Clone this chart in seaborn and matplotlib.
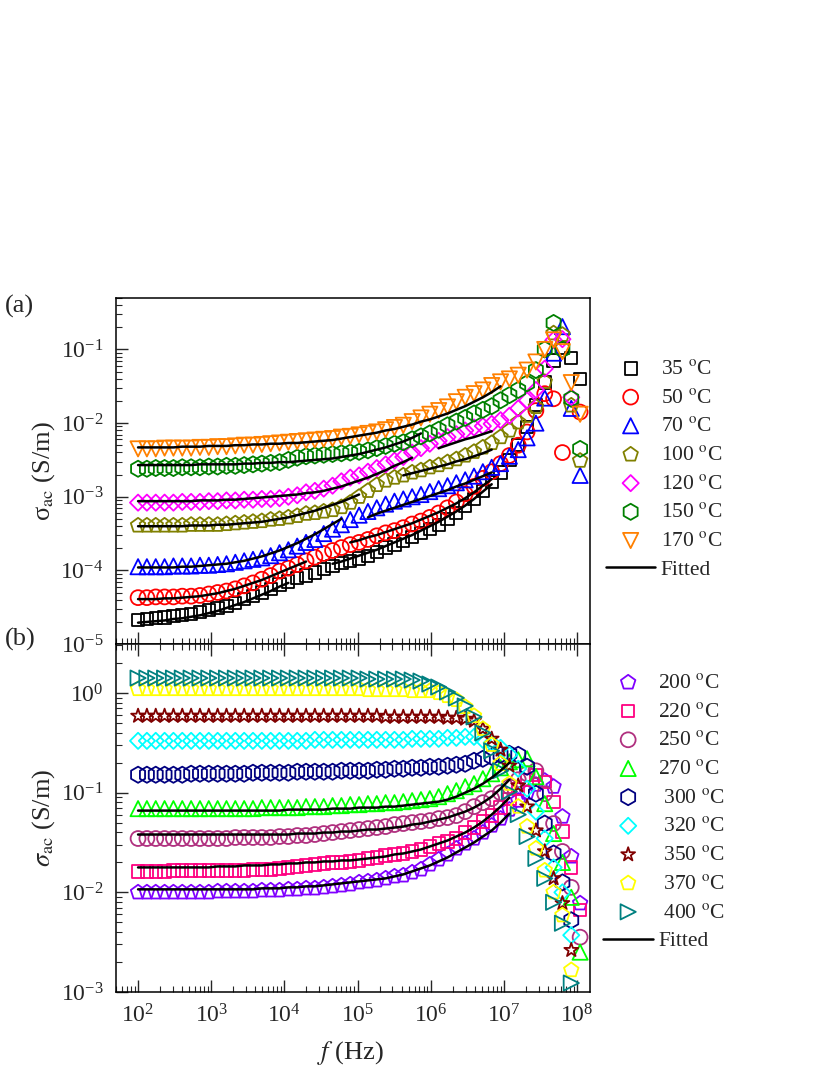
import numpy as np
import pandas as pd
import matplotlib
matplotlib.use('Agg')
import matplotlib.pyplot as plt
import seaborn as sns
from matplotlib.ticker import LogLocator, NullFormatter

sns.set_theme(style='ticks')
plt.rcParams['font.family'] = ['Liberation Serif', 'DejaVu Serif']
plt.rcParams['mathtext.fontset'] = 'stix'

nan = np.nan
# measurement frequencies: 100 Hz .. 110 MHz, 51 points
freq = np.logspace(2, np.log10(1.1e8), 51)

# ---- panel (a): log10(sigma_ac) ----
temps_a = ['35', '50', '70', '100', '120', '150', '170']
s35 = [-4.67, -4.66, -4.65, -4.64, -4.62, -4.61, -4.59, -4.57, -4.54, -4.51,
       -4.48, -4.44, -4.39, -4.35, -4.30, -4.25, -4.19, -4.15, -4.10, -4.07,
       -4.03, -3.98, -3.94, -3.90, -3.87, -3.84, -3.80, -3.75, -3.69, -3.65,
       -3.60, -3.55, -3.49, -3.44, -3.38, -3.30, -3.22, -3.13, -3.03, -2.92,
       -2.80, -2.67, -2.50, -2.30, -2.05, -1.75, -1.45, -1.15, -0.98, -1.12,
       -1.40]
s50 = [-4.37, -4.37, -4.36, -4.36, -4.36, -4.35, -4.35, -4.34, -4.32, -4.30,
       -4.28, -4.25, -4.21, -4.17, -4.12, -4.07, -4.01, -3.97, -3.92, -3.87,
       -3.82, -3.77, -3.73, -3.69, -3.65, -3.62, -3.58, -3.53, -3.49, -3.46,
       -3.42, -3.37, -3.33, -3.28, -3.22, -3.15, -3.07, -2.96, -2.86, -2.75,
       -2.66, -2.55, -2.44, -2.30, -2.12, -1.83, -1.60, -1.67, -2.40, nan,
       -1.85]
s70 = [-3.95, -3.95, -3.95, -3.95, -3.94, -3.94, -3.94, -3.93, -3.93, -3.92,
       -3.91, -3.89, -3.87, -3.85, -3.83, -3.80, -3.76, -3.72, -3.67, -3.62,
       -3.58, -3.50, -3.44, -3.38, -3.31, -3.25, -3.20, -3.15, -3.10, -3.06,
       -3.03, -3.00, -2.97, -2.93, -2.89, -2.85, -2.81, -2.77, -2.72, -2.66,
       -2.60, -2.55, -2.45, -2.36, -2.20, -2.00, -1.66, -1.05, -0.69, -1.80,
       -2.71]
s100 = [-3.39, -3.39, -3.39, -3.39, -3.39, -3.39, -3.38, -3.38, -3.38, -3.38,
        -3.37, -3.36, -3.35, -3.34, -3.33, -3.31, -3.30, -3.28, -3.26, -3.23,
        -3.22, -3.20, -3.18, -3.14, -3.08, -3.00, -2.92, -2.84, -2.78, -2.74,
        -2.71, -2.67, -2.64, -2.60, -2.57, -2.53, -2.49, -2.44, -2.39, -2.33,
        -2.27, -2.19, -2.10, -1.99, -1.90, -1.78, -1.44, -0.78, -0.80, -1.76,
        -2.51]
s120 = [-3.08, -3.08, -3.08, -3.08, -3.08, -3.07, -3.07, -3.07, -3.06, -3.06,
        -3.05, -3.05, -3.04, -3.04, -3.03, -3.03, -3.02, -3.00, -2.98, -2.94,
        -2.92, -2.89, -2.85, -2.79, -2.74, -2.71, -2.66, -2.61, -2.56, -2.51,
        -2.46, -2.40, -2.34, -2.28, -2.24, -2.19, -2.15, -2.10, -2.06, -2.04,
        -2.01, -1.96, -1.90, -1.80, -1.69, -1.55, -1.26, -0.87, -0.86, -1.65,
        nan]
s150 = [-2.62, -2.62, -2.61, -2.61, -2.61, -2.60, -2.60, -2.60, -2.59, -2.59,
        -2.58, -2.58, -2.57, -2.56, -2.55, -2.54, -2.53, -2.50, -2.47, -2.45,
        -2.44, -2.43, -2.42, -2.41, -2.40, -2.39, -2.37, -2.34, -2.31, -2.28,
        -2.26, -2.22, -2.18, -2.14, -2.09, -2.03, -1.98, -1.93, -1.87, -1.82,
        -1.77, -1.69, -1.62, -1.55, -1.46, -1.28, -1.00, -0.64, -1.00, -1.67,
        -2.35]
s170 = [-2.35, -2.35, -2.35, -2.34, -2.34, -2.34, -2.34, -2.33, -2.33, -2.32,
        -2.32, -2.31, -2.30, -2.30, -2.29, -2.28, -2.27, -2.26, -2.25, -2.24,
        -2.23, -2.22, -2.21, -2.19, -2.18, -2.16, -2.14, -2.12, -2.09, -2.06,
        -2.03, -1.98, -1.93, -1.88, -1.83, -1.78, -1.71, -1.65, -1.60, -1.55,
        -1.49, -1.44, -1.40, -1.35, -1.28, -1.17, -1.00, -0.87, -1.03, -1.45,
        -1.88]
series_a = [s35, s50, s70, s100, s120, s150, s170]
colors_a = ['black', '#ff0000', '#0000ff', '#808000', '#ff00ff', '#008000', '#ff8000']
markers_a = ['s', 'o', '^', 'p', 'D', 'h', 'v']
sizes_a = [78, 115, 120, 120, 68, 135, 120]

# fitted segments for panel (a): (first frequency index, log10 values)
fits_a = [
    (0, [-4.71, -4.70, -4.69, -4.68, -4.66, -4.65, -4.63, -4.61, -4.58, -4.55,
         -4.51, -4.47, -4.43, -4.38, -4.33, -4.28, -4.22, -4.17]),
    (22, [-3.91, -3.88, -3.84, -3.80, -3.76, -3.72, -3.67, -3.62, -3.57, -3.52,
          -3.46, -3.40, -3.34, -3.27, -3.20, -3.12, -3.03, -2.93, -2.83]),
    (0, [-4.39, -4.39, -4.39, -4.38, -4.38, -4.37, -4.36, -4.35, -4.33, -4.31,
         -4.28, -4.25, -4.21, -4.17, -4.13, -4.08, -4.03, -3.98, -3.93, -3.88]),
    (24, [-3.62, -3.59, -3.55, -3.52, -3.48, -3.44, -3.40, -3.36, -3.31, -3.26,
          -3.21, -3.15, -3.09, -3.02, -2.94, -2.85, -2.76]),
    (0, [-3.96, -3.96, -3.96, -3.96, -3.96, -3.95, -3.95, -3.94, -3.93, -3.92,
         -3.91, -3.89, -3.87, -3.84, -3.81, -3.77, -3.73, -3.68, -3.63, -3.57,
         -3.51, -3.44, -3.37, -3.30]),
    (26, [-3.28, -3.23, -3.19, -3.15, -3.11, -3.07, -3.03, -2.99, -2.95, -2.91,
          -2.86, -2.82, -2.77, -2.72, -2.67]),
    (0, [-3.40, -3.40, -3.40, -3.40, -3.40, -3.40, -3.39, -3.39, -3.39, -3.38,
         -3.38, -3.37, -3.36, -3.35, -3.34, -3.32, -3.30, -3.28, -3.25, -3.22,
         -3.19, -3.15, -3.11, -3.07, -3.02, -2.97]),
    (30, [-2.71, -2.68, -2.65, -2.62, -2.59, -2.56, -2.52, -2.49, -2.45, -2.41,
          -2.36]),
    (0, [-3.06, -3.06, -3.06, -3.06, -3.06, -3.06, -3.06, -3.05, -3.05, -3.05,
         -3.04, -3.04, -3.03, -3.02, -3.01, -3.00, -2.99, -2.98, -2.97, -2.95,
         -2.94, -2.92, -2.89, -2.86, -2.82, -2.78, -2.74, -2.69, -2.64, -2.58,
         -2.53, -2.47]),
    (34, [-2.34, -2.30, -2.26, -2.22, -2.19, -2.15, -2.11]),
    (0, [-2.57, -2.57, -2.57, -2.57, -2.57, -2.57, -2.57, -2.56, -2.56, -2.56,
         -2.56, -2.56, -2.55, -2.55, -2.54, -2.54, -2.53, -2.53, -2.52, -2.51,
         -2.50, -2.49, -2.48, -2.46, -2.44, -2.42, -2.39, -2.36, -2.33, -2.29,
         -2.25, -2.20, -2.14]),
    (0, [-2.33, -2.33, -2.33, -2.33, -2.33, -2.32, -2.32, -2.32, -2.31, -2.31,
         -2.31, -2.30, -2.30, -2.29, -2.29, -2.28, -2.28, -2.27, -2.27, -2.26,
         -2.25, -2.24, -2.23, -2.21, -2.19, -2.17, -2.15, -2.13, -2.10, -2.08,
         -2.05, -2.02, -1.98, -1.95, -1.91, -1.87, -1.82, -1.77, -1.71, -1.65,
         -1.58, -1.50]),
]

# ---- panel (b) ----
temps_b = ['200', '220', '250', '270', ' 300', ' 320', ' 350', ' 370', ' 400']
s200 = [-2.00, -2.00, -2.00, -2.00, -2.00, -2.00, -2.00, -2.00, -2.00, -1.99,
        -1.99, -1.99, -1.99, -1.99, -1.98, -1.98, -1.98, -1.97, -1.97, -1.96,
        -1.96, -1.95, -1.94, -1.93, -1.92, -1.90, -1.89, -1.88, -1.86, -1.84,
        -1.83, -1.80, -1.77, -1.72, -1.67, -1.62, -1.56, -1.51, -1.46, -1.40,
        -1.33, -1.26, -1.17, -1.08, -1.00, -0.92, -0.88, -0.94, -1.24, -1.64,
        -2.11]
s220 = [-1.79, -1.79, -1.79, -1.79, -1.78, -1.78, -1.78, -1.78, -1.78, -1.78,
        -1.78, -1.78, -1.78, -1.77, -1.77, -1.77, -1.76, -1.75, -1.74, -1.73,
        -1.72, -1.71, -1.70, -1.70, -1.69, -1.68, -1.66, -1.65, -1.63, -1.62,
        -1.61, -1.59, -1.57, -1.54, -1.51, -1.49, -1.46, -1.40, -1.35, -1.29,
        -1.23, -1.15, -1.06, -0.96, -0.87, -0.82, -0.89, -1.09, -1.39, -1.75,
        -2.18]
s250 = [-1.46, -1.46, -1.46, -1.46, -1.46, -1.46, -1.46, -1.46, -1.46, -1.46,
        -1.46, -1.45, -1.45, -1.45, -1.45, -1.45, -1.44, -1.44, -1.43, -1.43,
        -1.42, -1.41, -1.40, -1.39, -1.38, -1.37, -1.36, -1.35, -1.34, -1.32,
        -1.31, -1.30, -1.29, -1.28, -1.26, -1.25, -1.23, -1.19, -1.14, -1.10,
        -1.06, -1.00, -0.94, -0.87, -0.81, -0.78, -1.01, -1.31, -1.59, -1.95,
        -2.45]
s270 = [-1.16, -1.16, -1.16, -1.16, -1.16, -1.16, -1.16, -1.16, -1.16, -1.16,
        -1.16, -1.16, -1.16, -1.16, -1.15, -1.15, -1.15, -1.15, -1.15, -1.14,
        -1.14, -1.14, -1.13, -1.13, -1.12, -1.12, -1.11, -1.11, -1.10, -1.10,
        -1.09, -1.08, -1.07, -1.06, -1.04, -1.01, -0.98, -0.94, -0.91, -0.86,
        -0.81, -0.75, -0.69, -0.67, -0.66, -0.84, -1.11, -1.41, -1.70, -2.05,
        -2.60]
s300 = [-0.82, -0.82, -0.82, -0.82, -0.82, -0.82, -0.81, -0.81, -0.81, -0.81,
        -0.81, -0.81, -0.81, -0.80, -0.80, -0.80, -0.80, -0.80, -0.79, -0.79,
        -0.79, -0.79, -0.79, -0.78, -0.78, -0.78, -0.78, -0.77, -0.77, -0.76,
        -0.76, -0.75, -0.75, -0.74, -0.74, -0.73, -0.72, -0.71, -0.68, -0.66,
        -0.64, -0.62, -0.61, -0.62, -0.74, -1.01, -1.31, -1.61, -1.90, -2.28,
        nan]
s320 = [-0.48, -0.48, -0.48, -0.48, -0.48, -0.48, -0.48, -0.48, -0.48, -0.48,
        -0.48, -0.48, -0.48, -0.48, -0.48, -0.48, -0.48, -0.48, -0.48, -0.48,
        -0.47, -0.47, -0.47, -0.47, -0.47, -0.47, -0.47, -0.47, -0.47, -0.47,
        -0.47, -0.46, -0.46, -0.46, -0.46, -0.45, -0.45, -0.44, -0.44, -0.47,
        -0.50, -0.55, -0.62, -0.76, -0.96, -1.19, -1.46, -1.75, -2.00, -2.43,
        nan]
s350 = [-0.23, -0.23, -0.23, -0.23, -0.23, -0.23, -0.23, -0.23, -0.23, -0.23,
        -0.23, -0.23, -0.23, -0.23, -0.23, -0.23, -0.23, -0.23, -0.23, -0.23,
        -0.23, -0.23, -0.23, -0.23, -0.23, -0.23, -0.23, -0.23, -0.24, -0.24,
        -0.24, -0.24, -0.24, -0.24, -0.24, -0.25, -0.25, -0.26, -0.28, -0.36,
        -0.46, -0.57, -0.73, -0.93, -1.14, -1.38, -1.59, -1.86, -2.11, -2.58,
        nan]
s370 = [0.04, 0.04, 0.04, 0.04, 0.04, 0.04, 0.04, 0.04, 0.04, 0.04,
        0.04, 0.04, 0.04, 0.04, 0.04, 0.04, 0.04, 0.04, 0.04, 0.04,
        0.04, 0.04, 0.04, 0.04, 0.04, 0.04, 0.03, 0.03, 0.03, 0.03,
        0.03, 0.02, 0.02, 0.02, 0.00, -0.03, -0.07, -0.14, -0.23, -0.36,
        -0.52, -0.71, -0.91, -1.14, -1.34, -1.56, -1.78, -2.00, -2.23, -2.78,
        nan]
s400 = [0.15, 0.15, 0.15, 0.15, 0.15, 0.15, 0.15, 0.15, 0.15, 0.15,
        0.15, 0.15, 0.15, 0.15, 0.15, 0.15, 0.15, 0.15, 0.15, 0.15,
        0.15, 0.15, 0.15, 0.15, 0.15, 0.15, 0.14, 0.14, 0.14, 0.14,
        0.14, 0.13, 0.12, 0.09, 0.06, 0.01, -0.05, -0.13, -0.24, -0.40,
        -0.58, -0.78, -0.99, -1.22, -1.44, -1.66, -1.86, -2.10, -2.31, -2.91,
        nan]
series_b = [s200, s220, s250, s270, s300, s320, s350, s370, s400]
colors_b = ['#8000ff', '#ff0080', '#b0307f', '#00ff00', '#000080', '#00ffff',
            '#800000', '#ffff00', '#008080']
markers_b = ['p', 's', 'o', '^', 'h', 'D', '*', 'p', '>']
sizes_b = [120, 78, 115, 120, 135, 68, 110, 120, 120]

fits_b = [
    (0, [-1.97, -1.97, -1.97, -1.97, -1.97, -1.97, -1.97, -1.97, -1.97, -1.97,
         -1.97, -1.97, -1.97, -1.97, -1.96, -1.96, -1.96, -1.95, -1.95, -1.94,
         -1.94, -1.93, -1.92, -1.91, -1.90, -1.89, -1.88, -1.87, -1.86, -1.84,
         -1.82, -1.79, -1.76, -1.73, -1.69, -1.65, -1.60, -1.55, -1.50, -1.44,
         -1.38, -1.30, -1.21]),
    (0, [-1.75, -1.75, -1.75, -1.75, -1.75, -1.75, -1.75, -1.75, -1.75, -1.74,
         -1.74, -1.74, -1.73, -1.73, -1.73, -1.72, -1.72, -1.71, -1.71, -1.70,
         -1.70, -1.69, -1.69, -1.68, -1.68, -1.67, -1.66, -1.65, -1.64, -1.62,
         -1.61, -1.59, -1.57, -1.54, -1.51, -1.48, -1.44, -1.40, -1.35, -1.29,
         -1.22, -1.14, -1.05]),
    (0, [-1.42, -1.42, -1.42, -1.42, -1.42, -1.42, -1.42, -1.42, -1.42, -1.42,
         -1.42, -1.42, -1.42, -1.42, -1.42, -1.42, -1.42, -1.42, -1.41, -1.41,
         -1.41, -1.40, -1.40, -1.39, -1.39, -1.38, -1.37, -1.37, -1.36, -1.35,
         -1.34, -1.32, -1.31, -1.29, -1.27, -1.25, -1.22, -1.19, -1.15, -1.10,
         -1.04, -0.96, -0.87]),
    (0, [-1.18, -1.18, -1.18, -1.18, -1.18, -1.18, -1.18, -1.18, -1.18, -1.18,
         -1.18, -1.18, -1.18, -1.18, -1.18, -1.18, -1.18, -1.17, -1.17, -1.17,
         -1.17, -1.17, -1.16, -1.16, -1.16, -1.15, -1.15, -1.15, -1.14, -1.14,
         -1.13, -1.12, -1.11, -1.10, -1.09, -1.07, -1.04, -1.00, -0.96, -0.91,
         -0.85, -0.78, -0.70]),
]


def draw_panel(ax, temps, series, colors, markers, sizes, fits):
    for t, vals, c, m, s in zip(temps, series, colors, markers, sizes):
        df = pd.DataFrame({'f': freq, 'sigma': 10 ** np.array(vals, dtype=float)}).dropna()
        sns.scatterplot(data=df, x='f', y='sigma', marker=m, s=s, facecolor='none',
                        edgecolor=c, linewidth=1.3, ax=ax, label=t + r' $^{\rm o}$C',
                        zorder=2)
    for k, (i0, vals) in enumerate(fits):
        fd = pd.DataFrame({'f': freq[i0:i0 + len(vals)], 'sigma': 10 ** np.array(vals)})
        sns.lineplot(data=fd, x='f', y='sigma', color='black', lw=1.8, ax=ax,
                     label='Fitted' if k == 0 else '_nolegend_', zorder=3)
    ax.set_xscale('log')
    ax.set_yscale('log')
    ax.set_xlim(50, 1.5e8)
    for axis in (ax.xaxis, ax.yaxis):
        axis.set_major_locator(LogLocator(base=10, numticks=20))
        axis.set_minor_locator(LogLocator(base=10, subs=np.arange(2, 10) * 1.0, numticks=20))
        axis.set_minor_formatter(NullFormatter())
    for sp in ax.spines.values():
        sp.set_linewidth(1.1)
        sp.set_color('black')
    h, l = ax.get_legend_handles_labels()
    order = [i for i, lab in enumerate(l) if lab != 'Fitted'] + [l.index('Fitted')]
    return [h[i] for i in order], [l[i] for i in order]


fig = plt.figure(figsize=(8.3, 10.75), dpi=100)
ax_a = fig.add_axes([0.1398, 0.4009, 0.5710, 0.3219])
ax_b = fig.add_axes([0.1398, 0.0772, 0.5710, 0.3237])

ha, la = draw_panel(ax_a, temps_a, series_a, colors_a, markers_a, sizes_a, fits_a)
hb, lb = draw_panel(ax_b, temps_b, series_b, colors_b, markers_b, sizes_b, fits_b)

ax_a.set_ylim(1e-5, 0.5)
ax_b.set_ylim(1e-3, 3.1)

ax_a.tick_params(which='both', direction='in', left=True, bottom=True, top=False,
                 right=False, labelbottom=False, labelsize=17, pad=9)
ax_b.tick_params(which='both', direction='in', left=True, bottom=True, top=True,
                 right=False, labelsize=17, pad=9)
for ax in (ax_a, ax_b):
    ax.tick_params(which='major', length=8.5, width=1.0)
    ax.tick_params(which='minor', length=4.5, width=0.8)

ax_a.xaxis.label.set_visible(False)
ax_a.set_ylabel('σ$_{\\rm ac}$ (S/m)', fontsize=19)
ax_b.set_ylabel(r'$\sigma_{\rm ac}$ (S/m)', fontsize=19)
ax_b.set_xlabel(r'$f$ (Hz)', fontsize=19)
ax_a.yaxis.set_label_coords(-0.125, 0.5)
ax_b.yaxis.set_label_coords(-0.125, 0.5)
ax_b.xaxis.set_label_coords(0.494, -0.135)

leg_kw = dict(loc='upper left', frameon=False, fontsize=15.5, handlelength=2.3,
              handletextpad=0.25, labelspacing=0.40, borderpad=0, borderaxespad=0,
              bbox_transform=fig.transFigure)
ax_a.legend(ha, la, bbox_to_anchor=(0.730, 1 - 359 / 1075), **leg_kw)
ax_b.legend(hb, lb, bbox_to_anchor=(0.727, 1 - 673 / 1075), **leg_kw)

fig.text(0.006, 0.7147, '(a)', fontsize=19, va='center', ha='left')
fig.text(0.006, 0.4047, '(b)', fontsize=19, va='center', ha='left')

fig.savefig('out.png', dpi=100)
